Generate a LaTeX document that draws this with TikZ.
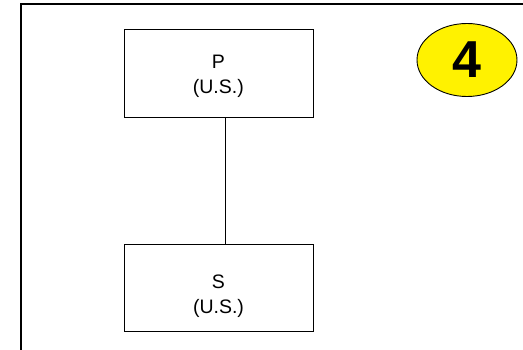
\documentclass[tikz,border=0pt]{standalone}
\usepackage{fontspec}
\setmainfont{Liberation Sans}
\usetikzlibrary{shapes.geometric}
\begin{document}
\begin{tikzpicture}[x=1pt,y=-1pt,
  entity/.style={draw,line width=1.2pt,minimum width=189pt,minimum height=87pt,inner sep=0pt},
  entitytext/.style={inner sep=0pt,align=center,font=\fontsize{19.5}{25}\selectfont},
  badge/.style={ellipse,draw,line width=0.9pt,fill=yellow,minimum width=100pt,minimum height=73pt,inner sep=0pt,font=\fontsize{52}{52}\selectfont\bfseries}]
\useasboundingbox (0,0) rectangle (523,350);
\coordinate (fb) at (21,352);
\coordinate (fc) at (21,4);
\coordinate (fr) at (525,4);
\draw[line width=2pt] (fb) -- (fc) -- (fr);
\node[entity,minimum height=88pt] (p) at (218.7,73.2) {};
\node[entity] (s) at (219.3,288.4) {};
\node[entitytext] (pt) at (218.3,76.5) {P\\(U.S.)};
\node[entitytext] (st) at (218.5,296) {S\\(U.S.)};
\coordinate (lx) at (225,0);
\draw[line width=0.9pt] (p.south -| lx) -- (s.north -| lx);
\node[badge] (n) at (467,60) {4};
\end{tikzpicture}
\end{document}
